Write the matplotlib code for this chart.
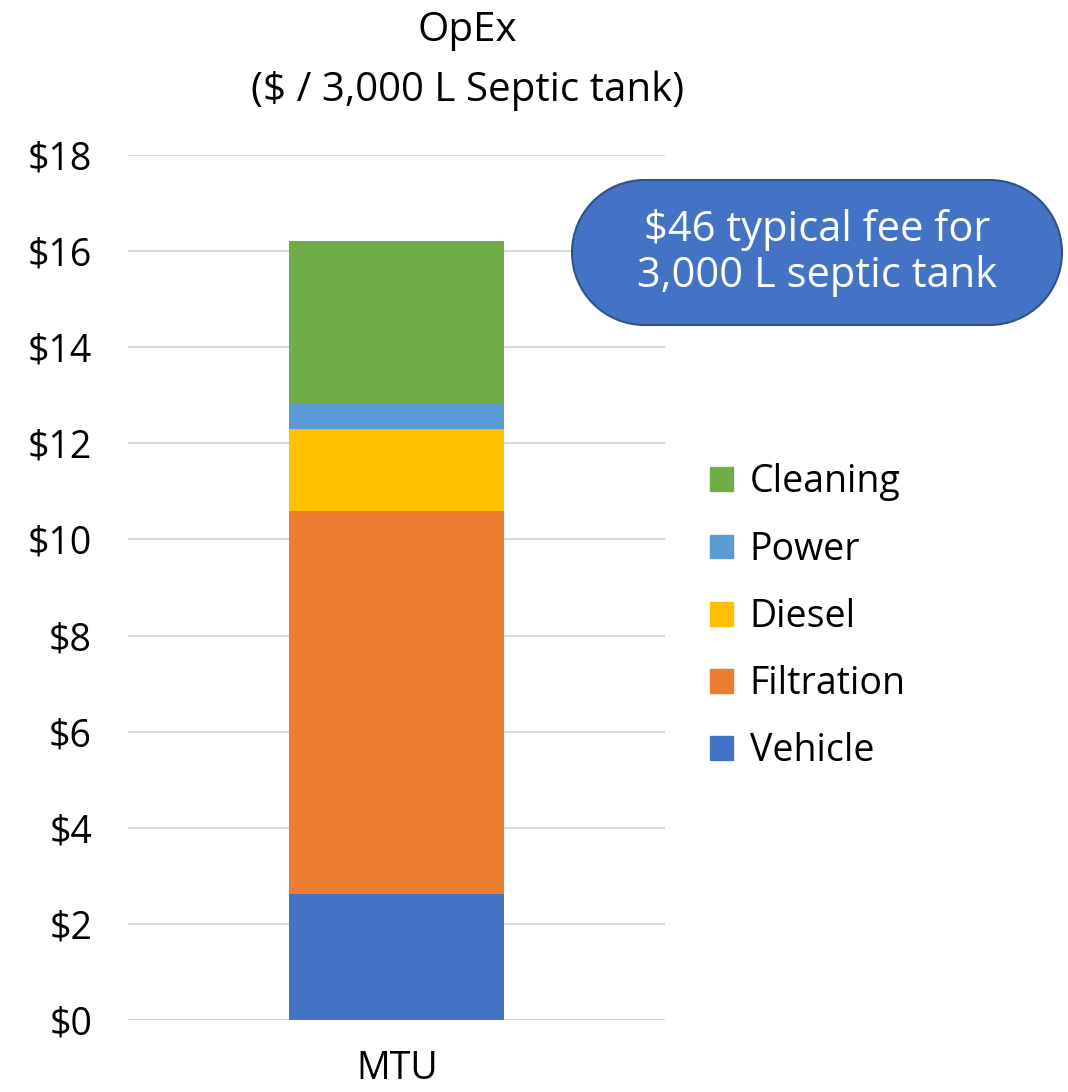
import numpy as np
import matplotlib.pyplot as plt
from matplotlib.patches import Patch, PathPatch
from matplotlib.path import Path

# datos
categoria = ["MTU"]
series = ["Vehicle", "Filtration", "Diesel", "Power", "Cleaning"]
valores = [2.63, 7.97, 1.69, 0.56, 3.36]
colores = ["#4472C4", "#ED7D31", "#FFC000", "#5B9BD5", "#70AD47"]
ticks_y = [0, 2, 4, 6, 8, 10, 12, 14, 16, 18]

plt.rcParams["font.family"] = ["Open Sans", "DejaVu Sans"]

fig = plt.figure(figsize=(10.68, 10.92), dpi=100)
ax = fig.add_axes([0.12, 0.066, 0.503, 0.792])

# barras apiladas
base = 0
for nombre, v, c in zip(series, valores, colores):
    ax.bar(categoria, [v], bottom=[base], width=0.4, color=c, label=nombre, zorder=3)
    base += v

ax.set_xlim(-0.5, 0.5)
ax.set_ylim(0, 18)
ax.set_yticks(ticks_y)
ax.set_yticklabels([f"${t}" for t in ticks_y])
ax.yaxis.grid(True, color="#D9D9D9", linewidth=1.5, zorder=0)
ax.tick_params(axis="both", length=0, labelsize=27)
ax.tick_params(axis="x", pad=22)
ax.tick_params(axis="y", pad=26)
for s in ax.spines.values():
    s.set_visible(False)

fig.text(0.438, 0.972, "OpEx", ha="center", va="center", fontsize=29)
fig.text(0.438, 0.917, "($ / 3,000 L Septic tank)", ha="center", va="center", fontsize=29)

# leyenda
handles = [Patch(color=c) for c in colores][::-1]
fig.legend(handles, series[::-1], loc="center left", bbox_to_anchor=(0.665, 0.435),
           frameon=False, fontsize=27, handlelength=0.6, handleheight=0.6,
           handletextpad=0.45, labelspacing=0.78, borderpad=0, borderaxespad=0)

# globo de texto (forma de pastilla, en pulgadas)
x0, y0, w, h = 5.72, 7.67, 4.90, 1.45
r = h / 2
izq = Path.arc(90, 270)
der = Path.arc(-90, 90)
v_izq = izq.vertices * r + [x0 + r, y0 + r]
v_der = der.vertices * r + [x0 + w - r, y0 + r]
verts = np.vstack([v_izq, v_der, v_izq[:1]])
codes = np.concatenate([izq.codes, [Path.LINETO], der.codes[1:], [Path.LINETO]])
codes[0] = Path.MOVETO
caja = PathPatch(Path(verts, codes), transform=fig.dpi_scale_trans,
                 facecolor="#4472C4", edgecolor="#2F528F", linewidth=1.5)
fig.add_artist(caja)
fig.text(8.17 / 10.68, 1 - 2.53 / 10.92, "$46 typical fee for\n3,000 L septic tank",
         ha="center", va="center", color="white", fontsize=30, linespacing=1.15)

fig.savefig("out.png", dpi=100)
